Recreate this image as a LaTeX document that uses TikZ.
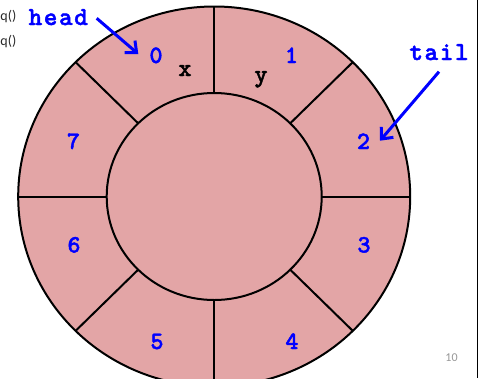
\documentclass[tikz,border=0pt]{standalone}
\usepackage{fontspec}
\setmainfont{Liberation Sans}
\newfontfamily\slidefont{Carlito}
\newfontfamily\courb{lmmonolt10-bold}[Extension=.otf, FakeBold=1.6, LetterSpace=6]
\newfontfamily\courd{lmmonolt10-bold}[Extension=.otf, FakeBold=1.6]
\usetikzlibrary{arrows.meta}
\definecolor{ringfill}{RGB}{227,165,166}
\definecolor{labblue}{RGB}{0,0,255}
\definecolor{slidegray}{RGB}{40,40,40}
\definecolor{pagegray}{RGB}{150,150,150}
\tikzset{
  ringline/.style={draw=black, line width=2pt},
  slotlabel/.style={text=labblue, font=\courd\fontsize{25}{25}\selectfont, anchor=base, inner sep=0pt},
  vallabel/.style={text=black, font=\courd\fontsize{25}{25}\selectfont, anchor=base, inner sep=0pt},
  ptrlabel/.style={text=labblue, font=\courb\fontsize{26}{26}\selectfont, anchor=base, inner sep=0pt},
  ptrarrow/.style={draw=labblue, line width=3pt, -{Straight Barb[length=9pt, width=16pt, line width=3pt]}},
  slidetext/.style={text=slidegray, font=\slidefont\fontsize{14}{14}\selectfont, anchor=base east, inner sep=0pt}
}
\begin{document}
\begin{tikzpicture}[x=1pt, y=-1pt]
\useasboundingbox (0,0) rectangle (481,378);
\coordinate (C) at (214.2,196.5);
\begin{scope}
  \clip (0,0) rectangle (481,378);
  \filldraw[fill=ringfill, ringline] (C) ellipse [x radius=196pt, y radius=190pt];
  \filldraw[fill=ringfill, ringline] (C) ellipse [x radius=107.5pt, y radius=103.5pt];
  \begin{scope}[shift={(C)}]
    \foreach \a in {0,45,...,315}
      \draw[ringline] (\a:107.5pt and 103.5pt) -- (\a:196pt and 190pt);
  \end{scope}
\end{scope}
% slot numbers
\node[slotlabel] (s0) at (156,63) {0};
\node[slotlabel] (s1) at (291.5,63) {1};
\node[slotlabel] (s2) at (363.5,149) {2};
\node[slotlabel] (s3) at (364,252.5) {3};
\node[slotlabel] (s4) at (292,349) {4};
\node[slotlabel] (s5) at (157,349) {5};
\node[slotlabel] (s6) at (74,252.5) {6};
\node[slotlabel] (s7) at (73.5,149) {7};
% values
\node[vallabel] (vx) at (185,76) {x};
\node[vallabel] (vy) at (261,82) {y};
% pointers
\node[ptrlabel] (head) at (58.3,25) {head};
\node[ptrlabel] (tail) at (439,60) {tail};
\coordinate (headstart) at (96.7,18.3);
\coordinate (headtip) at (138.3,54);
\coordinate (tailstart) at (439,71.7);
\coordinate (tailtip) at (380,140.7);
\draw[ptrarrow] (headstart) -- (headtip);
\draw[ptrarrow] (tailstart) -- (tailtip);
% slide remnants
\node[slidetext] (t1) at (16.5,20) {q()};
\node[slidetext] (t2) at (16.5,45) {q()};
\node[text=pagegray, font=\slidefont\fontsize{12}{12}\selectfont, anchor=base, inner sep=0pt] (pg) at (451.5,361.7) {10};
\coordinate (edgetop) at (477.3,0);
\coordinate (edgebot) at (477.3,378);
\draw[black, line width=1.5pt] (edgetop) -- (edgebot);
\end{tikzpicture}
\end{document}
